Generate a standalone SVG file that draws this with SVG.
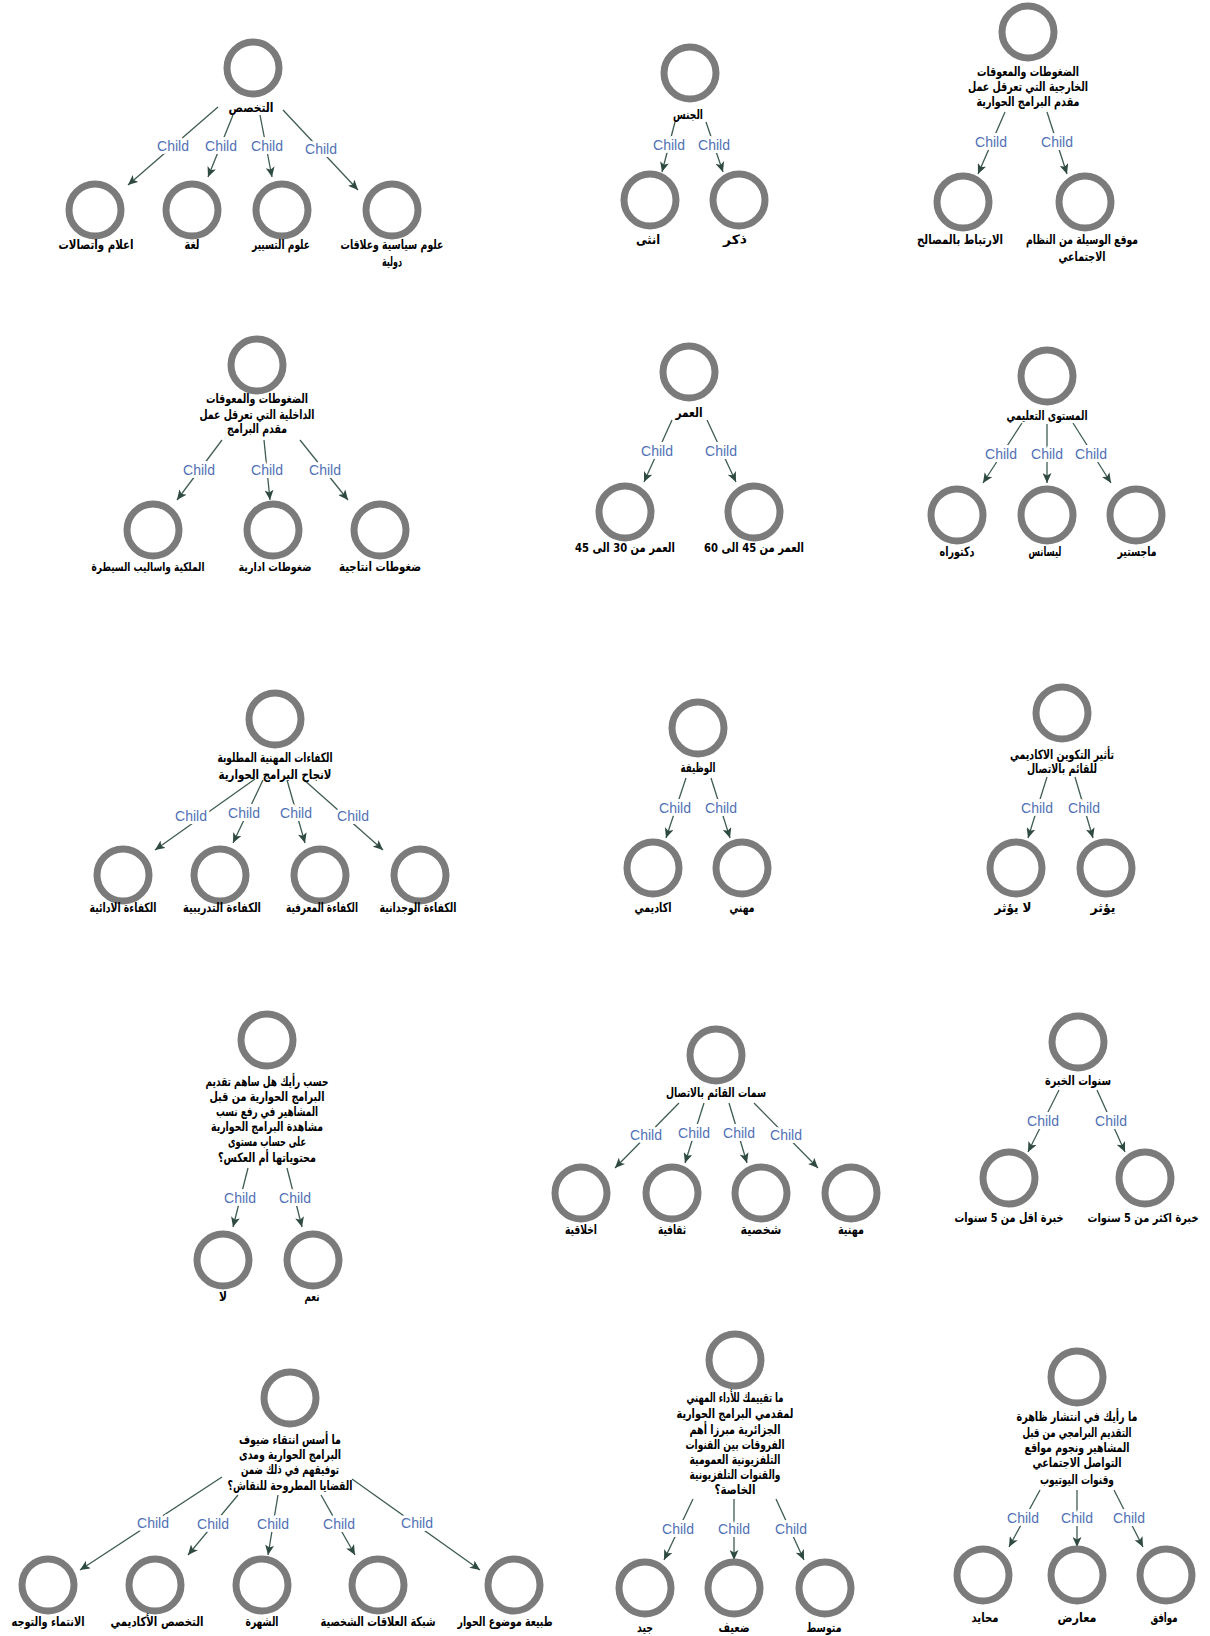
<svg xmlns="http://www.w3.org/2000/svg" width="1210" height="1636" viewBox="0 0 1210 1636">
<style>
.ring{fill:none;stroke:#7b7b7b;stroke-width:7}
.lbl{font-family:"DejaVu Sans Condensed","DejaVu Sans",sans-serif;font-weight:bold;font-size:13px;fill:#000;text-anchor:middle;direction:rtl;unicode-bidi:embed}
.edge{stroke:#3e5c52;stroke-width:1.3;fill:none;marker-end:url(#arr)}
.el{font-family:"Liberation Sans",Arial,sans-serif;font-size:14px;fill:#5171b5;text-anchor:middle;stroke:#fff;stroke-width:6;paint-order:stroke;stroke-linejoin:round}
</style>
<defs>
<marker id="arr" markerUnits="userSpaceOnUse" markerWidth="11" markerHeight="9" refX="10" refY="4.5" orient="auto">
<path d="M0,0 L10,4.5 L0,9 L2.5,4.5 Z" fill="#2f4a40"/>
</marker>
</defs>
<rect width="1210" height="1636" fill="#fff"/>

<g id="connectors">
<!-- A -->
<line class="edge" x1="218" y1="107" x2="128" y2="185"/><text class="el" x="173" y="151">Child</text>
<line class="edge" x1="233" y1="115" x2="208" y2="177"/><text class="el" x="221" y="151">Child</text>
<line class="edge" x1="260" y1="115" x2="272" y2="177"/><text class="el" x="267" y="151">Child</text>
<line class="edge" x1="283" y1="110" x2="358" y2="190"/><text class="el" x="321" y="154">Child</text>
<!-- B -->
<line class="edge" x1="675" y1="122" x2="662" y2="172"/><text class="el" x="669" y="150">Child</text>
<line class="edge" x1="706" y1="122" x2="723" y2="172"/><text class="el" x="714" y="150">Child</text>
<!-- C -->
<line class="edge" x1="1005" y1="112" x2="978" y2="174"/><text class="el" x="991" y="147">Child</text>
<line class="edge" x1="1047" y1="112" x2="1067" y2="174"/><text class="el" x="1057" y="147">Child</text>
<!-- D -->
<line class="edge" x1="222" y1="440" x2="177" y2="500"/><text class="el" x="199" y="475">Child</text>
<line class="edge" x1="264" y1="440" x2="270" y2="500"/><text class="el" x="267" y="475">Child</text>
<line class="edge" x1="300" y1="440" x2="348" y2="500"/><text class="el" x="325" y="475">Child</text>
<!-- E -->
<line class="edge" x1="672" y1="420" x2="644" y2="482"/><text class="el" x="657" y="456">Child</text>
<line class="edge" x1="707" y1="420" x2="736" y2="482"/><text class="el" x="721" y="456">Child</text>
<!-- F -->
<line class="edge" x1="1022" y1="423" x2="983" y2="483"/><text class="el" x="1001" y="459">Child</text>
<line class="edge" x1="1047" y1="424" x2="1047" y2="483"/><text class="el" x="1047" y="459">Child</text>
<line class="edge" x1="1073" y1="423" x2="1111" y2="483"/><text class="el" x="1091" y="459">Child</text>
<!-- G -->
<line class="edge" x1="255" y1="779" x2="155" y2="850"/><text class="el" x="191" y="821">Child</text>
<line class="edge" x1="263" y1="780" x2="233" y2="843"/><text class="el" x="244" y="818">Child</text>
<line class="edge" x1="287" y1="780" x2="305" y2="843"/><text class="el" x="296" y="818">Child</text>
<line class="edge" x1="303" y1="779" x2="383" y2="850"/><text class="el" x="353" y="821">Child</text>
<!-- H -->
<line class="edge" x1="686" y1="778" x2="666" y2="838"/><text class="el" x="675" y="813">Child</text>
<line class="edge" x1="711" y1="778" x2="730" y2="838"/><text class="el" x="721" y="813">Child</text>
<!-- I -->
<line class="edge" x1="1047" y1="777" x2="1028" y2="838"/><text class="el" x="1037" y="813">Child</text>
<line class="edge" x1="1075" y1="777" x2="1093" y2="838"/><text class="el" x="1084" y="813">Child</text>
<!-- J -->
<line class="edge" x1="248" y1="1168" x2="233" y2="1227"/><text class="el" x="240" y="1203">Child</text>
<line class="edge" x1="287" y1="1168" x2="302" y2="1227"/><text class="el" x="295" y="1203">Child</text>
<!-- K -->
<line class="edge" x1="679" y1="1103" x2="615" y2="1168"/><text class="el" x="646" y="1140">Child</text>
<line class="edge" x1="704" y1="1103" x2="685" y2="1163"/><text class="el" x="694" y="1138">Child</text>
<line class="edge" x1="729" y1="1103" x2="747" y2="1163"/><text class="el" x="739" y="1138">Child</text>
<line class="edge" x1="754" y1="1103" x2="818" y2="1168"/><text class="el" x="786" y="1140">Child</text>
<!-- L -->
<line class="edge" x1="1059" y1="1090" x2="1028" y2="1152"/><text class="el" x="1043" y="1126">Child</text>
<line class="edge" x1="1097" y1="1090" x2="1125" y2="1152"/><text class="el" x="1111" y="1126">Child</text>
<!-- M -->
<line class="edge" x1="222" y1="1477" x2="80" y2="1570"/><text class="el" x="153" y="1528">Child</text>
<line class="edge" x1="238" y1="1495" x2="188" y2="1555"/><text class="el" x="213" y="1529">Child</text>
<line class="edge" x1="278" y1="1495" x2="268" y2="1555"/><text class="el" x="273" y="1529">Child</text>
<line class="edge" x1="321" y1="1495" x2="355" y2="1555"/><text class="el" x="339" y="1529">Child</text>
<line class="edge" x1="352" y1="1479" x2="480" y2="1570"/><text class="el" x="417" y="1528">Child</text>
<!-- N -->
<line class="edge" x1="693" y1="1499" x2="664" y2="1560"/><text class="el" x="678" y="1534">Child</text>
<line class="edge" x1="734" y1="1499" x2="734" y2="1560"/><text class="el" x="734" y="1534">Child</text>
<line class="edge" x1="776" y1="1499" x2="804" y2="1560"/><text class="el" x="791" y="1534">Child</text>
<!-- O -->
<line class="edge" x1="1040" y1="1490" x2="1009" y2="1547"/><text class="el" x="1023" y="1523">Child</text>
<line class="edge" x1="1077" y1="1490" x2="1077" y2="1547"/><text class="el" x="1077" y="1523">Child</text>
<line class="edge" x1="1114" y1="1490" x2="1143" y2="1547"/><text class="el" x="1129" y="1523">Child</text>
</g>

<!-- Tree A -->
<g id="a-root"><circle class="ring" cx="253" cy="68" r="26"/><text class="lbl" x="251" y="112" textLength="45" lengthAdjust="spacingAndGlyphs">التخصص</text></g>
<g id="a-c1"><circle class="ring" cx="95" cy="210" r="26"/><text class="lbl" x="96" y="249" textLength="75" lengthAdjust="spacingAndGlyphs">اعلام واتصالات</text></g>
<g id="a-c2"><circle class="ring" cx="192" cy="210" r="26"/><text class="lbl" x="192" y="249" textLength="15" lengthAdjust="spacingAndGlyphs">لغة</text></g>
<g id="a-c3"><circle class="ring" cx="282" cy="210" r="26"/><text class="lbl" x="281" y="249" textLength="58" lengthAdjust="spacingAndGlyphs">علوم التسيير</text></g>
<g id="a-c4"><circle class="ring" cx="392" cy="210" r="26"/><text class="lbl" x="392" y="249" textLength="103" lengthAdjust="spacingAndGlyphs">علوم سياسية وعلاقات</text><text class="lbl" x="392" y="266" textLength="20" lengthAdjust="spacingAndGlyphs">دولية</text></g>

<!-- Tree B -->
<g id="b-root"><circle class="ring" cx="690" cy="73" r="26"/><text class="lbl" x="688" y="119" textLength="30" lengthAdjust="spacingAndGlyphs">الجنس</text></g>
<g id="b-c1"><circle class="ring" cx="650" cy="200" r="26"/><text class="lbl" x="648" y="244" textLength="24" lengthAdjust="spacingAndGlyphs">انثى</text></g>
<g id="b-c2"><circle class="ring" cx="739" cy="200" r="26"/><text class="lbl" x="735" y="244" textLength="24" lengthAdjust="spacingAndGlyphs">ذكر</text></g>

<!-- Tree C -->
<g id="c-root"><circle class="ring" cx="1028" cy="32" r="26"/><text class="lbl" x="1028" y="76" textLength="102" lengthAdjust="spacingAndGlyphs">الضغوطات والمعوقات</text><text class="lbl" x="1028" y="91" textLength="120" lengthAdjust="spacingAndGlyphs">الخارجية التي تعرقل عمل</text><text class="lbl" x="1028" y="106" textLength="103" lengthAdjust="spacingAndGlyphs">مقدم البرامج الحوارية</text></g>
<g id="c-c1"><circle class="ring" cx="963" cy="202" r="26"/><text class="lbl" x="960" y="244" textLength="86" lengthAdjust="spacingAndGlyphs">الارتباط بالمصالح</text></g>
<g id="c-c2"><circle class="ring" cx="1085" cy="202" r="26"/><text class="lbl" x="1082" y="244" textLength="112" lengthAdjust="spacingAndGlyphs">موقع الوسيلة من النظام</text><text class="lbl" x="1082" y="261" textLength="47" lengthAdjust="spacingAndGlyphs">الاجتماعي</text></g>

<!-- Tree D -->
<g id="d-root"><circle class="ring" cx="257" cy="365" r="26"/><text class="lbl" x="257" y="403" textLength="102" lengthAdjust="spacingAndGlyphs">الضغوطات والمعوقات</text><text class="lbl" x="257" y="419" textLength="115" lengthAdjust="spacingAndGlyphs">الداخلية التي تعرقل عمل</text><text class="lbl" x="257" y="433" textLength="60" lengthAdjust="spacingAndGlyphs">مقدم البرامج</text></g>
<g id="d-c1"><circle class="ring" cx="153" cy="530" r="26"/><text class="lbl" x="148" y="571" style="font-size:12px" textLength="113" lengthAdjust="spacingAndGlyphs">الملكية واساليب السيطرة</text></g>
<g id="d-c2"><circle class="ring" cx="273" cy="530" r="26"/><text class="lbl" x="275" y="571" style="font-size:12px" textLength="73" lengthAdjust="spacingAndGlyphs">ضغوطات ادارية</text></g>
<g id="d-c3"><circle class="ring" cx="380" cy="530" r="26"/><text class="lbl" x="380" y="571" textLength="82" lengthAdjust="spacingAndGlyphs">ضغوطات انتاجية</text></g>

<!-- Tree E -->
<g id="e-root"><circle class="ring" cx="689" cy="372" r="26"/><text class="lbl" x="689" y="417" textLength="27" lengthAdjust="spacingAndGlyphs">العمر</text></g>
<g id="e-c1"><circle class="ring" cx="625" cy="512" r="26"/><text class="lbl" x="625" y="552" textLength="100" lengthAdjust="spacingAndGlyphs">العمر من 30 الى 45</text></g>
<g id="e-c2"><circle class="ring" cx="754" cy="512" r="26"/><text class="lbl" x="754" y="552" textLength="100" lengthAdjust="spacingAndGlyphs">العمر من 45 الى 60</text></g>

<!-- Tree F -->
<g id="f-root"><circle class="ring" cx="1047" cy="376" r="26"/><text class="lbl" x="1047" y="420" textLength="81" lengthAdjust="spacingAndGlyphs">المستوى التعليمي</text></g>
<g id="f-c1"><circle class="ring" cx="957" cy="515" r="26"/><text class="lbl" x="957" y="556" textLength="35" lengthAdjust="spacingAndGlyphs">دكتوراه</text></g>
<g id="f-c2"><circle class="ring" cx="1047" cy="515" r="26"/><text class="lbl" x="1045" y="556" textLength="33" lengthAdjust="spacingAndGlyphs">ليسانس</text></g>
<g id="f-c3"><circle class="ring" cx="1136" cy="515" r="26"/><text class="lbl" x="1137" y="556" textLength="39" lengthAdjust="spacingAndGlyphs">ماجستير</text></g>

<!-- Tree G -->
<g id="g-root"><circle class="ring" cx="275" cy="719" r="26"/><text class="lbl" x="275" y="762" textLength="115" lengthAdjust="spacingAndGlyphs">الكفاءات المهنية المطلوبة</text><text class="lbl" x="275" y="779" textLength="113" lengthAdjust="spacingAndGlyphs">لانجاح البرامج الحوارية</text></g>
<g id="g-c1"><circle class="ring" cx="123" cy="875" r="26"/><text class="lbl" x="123" y="912" textLength="67" lengthAdjust="spacingAndGlyphs">الكفاءة الادائية</text></g>
<g id="g-c2"><circle class="ring" cx="220" cy="875" r="26"/><text class="lbl" x="222" y="912" textLength="78" lengthAdjust="spacingAndGlyphs">الكفاءة التدريبية</text></g>
<g id="g-c3"><circle class="ring" cx="320" cy="875" r="26"/><text class="lbl" x="322" y="912" textLength="72" lengthAdjust="spacingAndGlyphs">الكفاءة المعرفية</text></g>
<g id="g-c4"><circle class="ring" cx="420" cy="875" r="26"/><text class="lbl" x="418" y="912" textLength="77" lengthAdjust="spacingAndGlyphs">الكفاءة الوجدانية</text></g>

<!-- Tree H -->
<g id="h-root"><circle class="ring" cx="698" cy="728" r="26"/><text class="lbl" x="698" y="772" textLength="35" lengthAdjust="spacingAndGlyphs">الوظيفة</text></g>
<g id="h-c1"><circle class="ring" cx="653" cy="868" r="26"/><text class="lbl" x="653" y="912" textLength="37" lengthAdjust="spacingAndGlyphs">اكاديمي</text></g>
<g id="h-c2"><circle class="ring" cx="742" cy="868" r="26"/><text class="lbl" x="742" y="912" textLength="25" lengthAdjust="spacingAndGlyphs">مهني</text></g>

<!-- Tree I -->
<g id="i-root"><circle class="ring" cx="1062" cy="713" r="26"/><text class="lbl" x="1062" y="759" textLength="104" lengthAdjust="spacingAndGlyphs">تأثير التكوين الاكاديمي</text><text class="lbl" x="1062" y="773" textLength="70" lengthAdjust="spacingAndGlyphs">للقائم بالاتصال</text></g>
<g id="i-c1"><circle class="ring" cx="1016" cy="868" r="26"/><text class="lbl" x="1013" y="912" textLength="37" lengthAdjust="spacingAndGlyphs">لا يؤثر</text></g>
<g id="i-c2"><circle class="ring" cx="1106" cy="868" r="26"/><text class="lbl" x="1103" y="912" textLength="25" lengthAdjust="spacingAndGlyphs">يؤثر</text></g>

<!-- Tree J -->
<g id="j-root"><circle class="ring" cx="267" cy="1040" r="26"/><text class="lbl" x="267" y="1086" textLength="123" lengthAdjust="spacingAndGlyphs">حسب رأيك هل ساهم تقديم</text><text class="lbl" x="267" y="1101" textLength="115" lengthAdjust="spacingAndGlyphs">البرامج الحوارية من قبل</text><text class="lbl" x="267" y="1116" textLength="102" lengthAdjust="spacingAndGlyphs">المشاهير في رفع نسب</text><text class="lbl" x="267" y="1131" textLength="112" lengthAdjust="spacingAndGlyphs">مشاهدة البرامج الحوارية</text><text class="lbl" x="267" y="1146" textLength="78" lengthAdjust="spacingAndGlyphs">على حساب مستوى</text><text class="lbl" x="267" y="1162" textLength="98" lengthAdjust="spacingAndGlyphs">محتوياتها أم العكس؟</text></g>
<g id="j-c1"><circle class="ring" cx="223" cy="1260" r="26"/><text class="lbl" x="223" y="1301" textLength="8" lengthAdjust="spacingAndGlyphs">لا</text></g>
<g id="j-c2"><circle class="ring" cx="313" cy="1260" r="26"/><text class="lbl" x="312" y="1301" textLength="15" lengthAdjust="spacingAndGlyphs">نعم</text></g>

<!-- Tree K -->
<g id="k-root"><circle class="ring" cx="716" cy="1055" r="26"/><text class="lbl" x="716" y="1097" textLength="100" lengthAdjust="spacingAndGlyphs">سمات القائم بالاتصال</text></g>
<g id="k-c1"><circle class="ring" cx="581" cy="1193" r="26"/><text class="lbl" x="581" y="1234" textLength="32" lengthAdjust="spacingAndGlyphs">اخلاقية</text></g>
<g id="k-c2"><circle class="ring" cx="672" cy="1193" r="26"/><text class="lbl" x="672" y="1234" textLength="28" lengthAdjust="spacingAndGlyphs">ثقافية</text></g>
<g id="k-c3"><circle class="ring" cx="761" cy="1193" r="26"/><text class="lbl" x="761" y="1234" textLength="41" lengthAdjust="spacingAndGlyphs">شخصية</text></g>
<g id="k-c4"><circle class="ring" cx="851" cy="1193" r="26"/><text class="lbl" x="851" y="1234" textLength="26" lengthAdjust="spacingAndGlyphs">مهنية</text></g>

<!-- Tree L -->
<g id="l-root"><circle class="ring" cx="1078" cy="1042" r="26"/><text class="lbl" x="1078" y="1085" textLength="66" lengthAdjust="spacingAndGlyphs">سنوات الخبرة</text></g>
<g id="l-c1"><circle class="ring" cx="1009" cy="1178" r="26"/><text class="lbl" x="1009" y="1222" textLength="109" lengthAdjust="spacingAndGlyphs">خبرة اقل من 5 سنوات</text></g>
<g id="l-c2"><circle class="ring" cx="1145" cy="1178" r="26"/><text class="lbl" x="1143" y="1222" style="font-size:12px" textLength="111" lengthAdjust="spacingAndGlyphs">خبرة اكثر من 5 سنوات</text></g>

<!-- Tree M -->
<g id="m-root"><circle class="ring" cx="290" cy="1398" r="26"/><text class="lbl" x="290" y="1444" textLength="102" lengthAdjust="spacingAndGlyphs">ما أسس انتقاء ضيوف</text><text class="lbl" x="290" y="1459" textLength="102" lengthAdjust="spacingAndGlyphs">البرامج الحوارية ومدى</text><text class="lbl" x="290" y="1474" textLength="98" lengthAdjust="spacingAndGlyphs">توفيقهم في ذلك ضمن</text><text class="lbl" x="290" y="1490" textLength="125" lengthAdjust="spacingAndGlyphs">القضايا المطروحة للنقاش؟</text></g>
<g id="m-c1"><circle class="ring" cx="48" cy="1585" r="26"/><text class="lbl" x="48" y="1626" textLength="73" lengthAdjust="spacingAndGlyphs">الانتماء والتوجه</text></g>
<g id="m-c2"><circle class="ring" cx="155" cy="1585" r="26"/><text class="lbl" x="157" y="1626" textLength="93" lengthAdjust="spacingAndGlyphs">التخصص الأكاديمي</text></g>
<g id="m-c3"><circle class="ring" cx="262" cy="1585" r="26"/><text class="lbl" x="262" y="1626" textLength="33" lengthAdjust="spacingAndGlyphs">الشهرة</text></g>
<g id="m-c4"><circle class="ring" cx="378" cy="1585" r="26"/><text class="lbl" x="378" y="1626" textLength="115" lengthAdjust="spacingAndGlyphs">شبكة العلاقات الشخصية</text></g>
<g id="m-c5"><circle class="ring" cx="514" cy="1585" r="26"/><text class="lbl" x="505" y="1626" textLength="95" lengthAdjust="spacingAndGlyphs">طبيعة موضوع الحوار</text></g>

<!-- Tree N -->
<g id="n-root"><circle class="ring" cx="735" cy="1360" r="26"/><text class="lbl" x="735" y="1402" textLength="97" lengthAdjust="spacingAndGlyphs">ما تقييمك للأداء المهني</text><text class="lbl" x="735" y="1418" textLength="117" lengthAdjust="spacingAndGlyphs">لمقدمي البرامج الحوارية</text><text class="lbl" x="735" y="1434" textLength="91" lengthAdjust="spacingAndGlyphs">الجزائرية مبرزا أهم</text><text class="lbl" x="735" y="1449" textLength="99" lengthAdjust="spacingAndGlyphs">الفروقات بين القنوات</text><text class="lbl" x="735" y="1464" textLength="91" lengthAdjust="spacingAndGlyphs">التلفزيونية العمومية</text><text class="lbl" x="735" y="1479" textLength="91" lengthAdjust="spacingAndGlyphs">والقنوات التلفزيونية</text><text class="lbl" x="735" y="1494" textLength="41" lengthAdjust="spacingAndGlyphs">الخاصة؟</text></g>
<g id="n-c1"><circle class="ring" cx="645" cy="1588" r="26"/><text class="lbl" x="645" y="1632" textLength="16" lengthAdjust="spacingAndGlyphs">جيد</text></g>
<g id="n-c2"><circle class="ring" cx="734" cy="1588" r="26"/><text class="lbl" x="734" y="1632" textLength="31" lengthAdjust="spacingAndGlyphs">ضعيف</text></g>
<g id="n-c3"><circle class="ring" cx="825" cy="1588" r="26"/><text class="lbl" x="824" y="1632" textLength="35" lengthAdjust="spacingAndGlyphs">متوسط</text></g>

<!-- Tree O -->
<g id="o-root"><circle class="ring" cx="1077" cy="1377" r="26"/><text class="lbl" x="1077" y="1421" textLength="121" lengthAdjust="spacingAndGlyphs">ما رأيك في انتشار ظاهرة</text><text class="lbl" x="1077" y="1437" textLength="109" lengthAdjust="spacingAndGlyphs">التقديم البرامجي من قبل</text><text class="lbl" x="1077" y="1452" textLength="105" lengthAdjust="spacingAndGlyphs">المشاهير ونجوم مواقع</text><text class="lbl" x="1077" y="1467" textLength="89" lengthAdjust="spacingAndGlyphs">التواصل الاجتماعي</text><text class="lbl" x="1077" y="1484" textLength="74" lengthAdjust="spacingAndGlyphs">وقنوات اليوتيوب</text></g>
<g id="o-c1"><circle class="ring" cx="983" cy="1575" r="26"/><text class="lbl" x="985" y="1622" textLength="27" lengthAdjust="spacingAndGlyphs">محايد</text></g>
<g id="o-c2"><circle class="ring" cx="1077" cy="1575" r="26"/><text class="lbl" x="1077" y="1622" textLength="39" lengthAdjust="spacingAndGlyphs">معارض</text></g>
<g id="o-c3"><circle class="ring" cx="1166" cy="1575" r="26"/><text class="lbl" x="1164" y="1622" textLength="27" lengthAdjust="spacingAndGlyphs">موافق</text></g>
</svg>
